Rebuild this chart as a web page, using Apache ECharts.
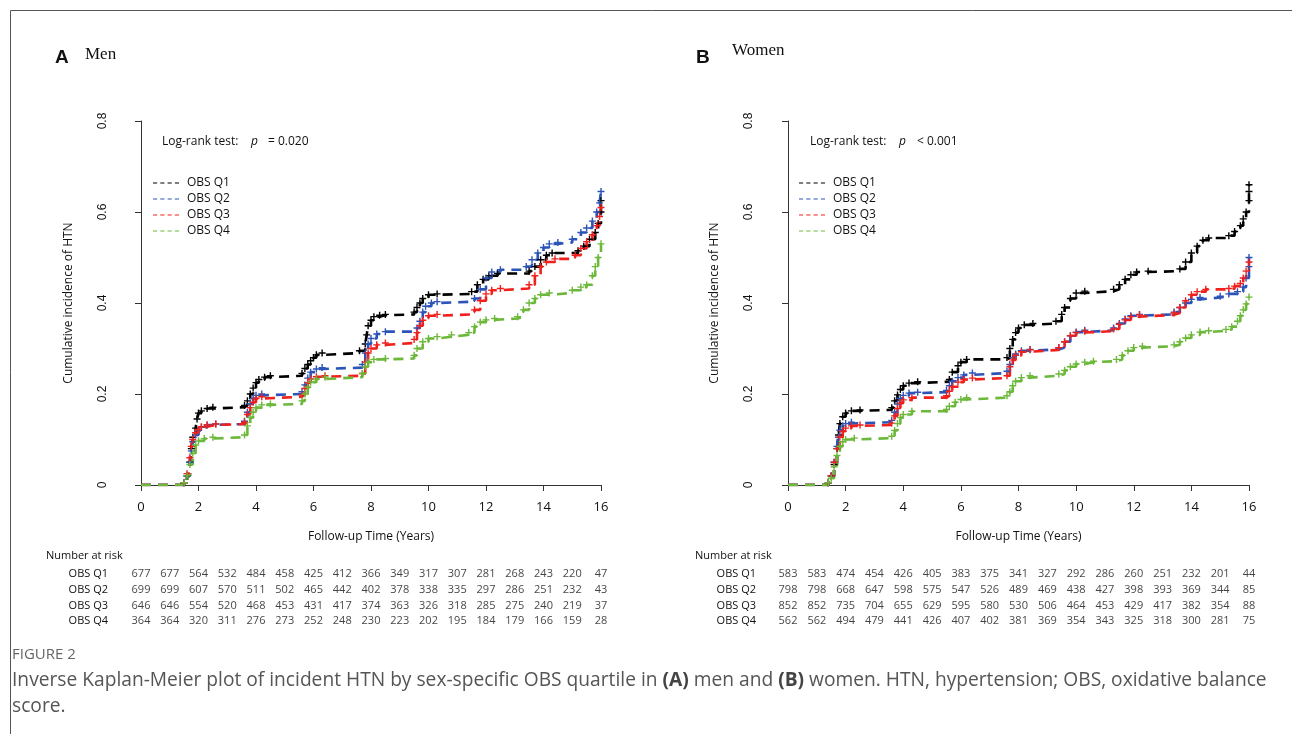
<!DOCTYPE html>
<html>
<head>
<meta charset="utf-8">
<script src="https://cdn.jsdelivr.net/npm/echarts@6.0.0/dist/echarts.min.js"></script>
<style>
  html, body { margin: 0; padding: 0; background: #fff; }
  #main { width: 1292px; height: 734px; }
</style>
</head>
<body>
<div id="main"></div>
<script>
// ---- data ----
const years = [0, 1, 2, 3, 4, 5, 6, 7, 8, 9, 10, 11, 12, 13, 14, 15, 16];
const groups = ['OBS Q1', 'OBS Q2', 'OBS Q3', 'OBS Q4'];
const colors = ['#000000', '#2c54b8', '#f0201c', '#6cb83a'];

// [time (years), cumulative incidence] at each step of the curve
const menQ1 = [[0,0],[1.5,0.005],[1.6,0.02],[1.7,0.05],[1.75,0.08],[1.8,0.105],[1.9,0.125],[1.95,0.145],[2.0,0.158],[2.1,0.163],[2.3,0.168],[2.5,0.171],
  [3.6,0.175],[3.7,0.185],[3.8,0.2],[3.9,0.213],[4.0,0.225],[4.1,0.232],[4.3,0.237],[4.5,0.24],
  [5.6,0.245],[5.7,0.256],[5.8,0.265],[5.9,0.273],[6.0,0.28],[6.1,0.286],[6.3,0.29],
  [7.6,0.295],[7.8,0.31],[7.85,0.33],[7.9,0.35],[8.0,0.362],[8.1,0.37],[8.3,0.373],[8.5,0.375],
  [9.5,0.38],[9.6,0.39],[9.7,0.4],[9.8,0.41],[10.0,0.418],[10.3,0.42],
  [11.5,0.425],[11.7,0.44],[11.9,0.452],[12.1,0.46],[12.4,0.465],
  [13.5,0.47],[13.7,0.48],[13.9,0.495],[14.1,0.505],[14.3,0.51],
  [15.2,0.515],[15.4,0.525],[15.6,0.54],[15.8,0.555],[15.9,0.575],[16.0,0.6],[16.0,0.625]];
const menQ2 = [[0,0],[1.5,0.005],[1.6,0.02],[1.7,0.05],[1.75,0.075],[1.8,0.095],[1.9,0.11],[2.0,0.12],[2.1,0.127],[2.3,0.132],[2.6,0.134],
  [3.6,0.14],[3.7,0.16],[3.8,0.178],[3.9,0.19],[4.0,0.197],[4.2,0.2],
  [5.6,0.205],[5.7,0.22],[5.8,0.235],[5.9,0.248],[6.1,0.255],[6.3,0.258],
  [7.7,0.265],[7.8,0.29],[7.9,0.31],[8.0,0.322],[8.2,0.332],[8.5,0.337],
  [9.6,0.345],[9.7,0.36],[9.8,0.38],[9.9,0.393],[10.1,0.4],[10.3,0.403],
  [11.6,0.41],[11.8,0.43],[12.0,0.455],[12.2,0.468],[12.5,0.473],
  [13.4,0.48],[13.6,0.495],[13.8,0.51],[14.0,0.522],[14.2,0.53],[14.5,0.533],
  [15.0,0.54],[15.3,0.555],[15.5,0.565],[15.7,0.58],[15.85,0.6],[15.95,0.62],[16.0,0.645]];
const menQ3 = [[0,0],[1.5,0.005],[1.6,0.025],[1.7,0.06],[1.75,0.085],[1.8,0.1],[1.9,0.115],[2.0,0.122],[2.1,0.128],[2.3,0.132],[2.6,0.134],
  [3.6,0.138],[3.7,0.155],[3.8,0.17],[3.9,0.182],[4.0,0.19],[4.2,0.194],
  [5.6,0.198],[5.7,0.212],[5.8,0.225],[5.9,0.233],[6.1,0.238],[6.4,0.24],
  [7.7,0.245],[7.8,0.27],[7.9,0.29],[8.0,0.3],[8.2,0.308],[8.5,0.312],
  [9.5,0.32],[9.6,0.335],[9.7,0.35],[9.8,0.362],[10.0,0.372],[10.3,0.375],
  [11.6,0.385],[11.8,0.405],[12.0,0.42],[12.2,0.428],[12.5,0.432],
  [13.5,0.44],[13.7,0.46],[13.9,0.48],[14.1,0.49],[14.4,0.497],
  [15.1,0.505],[15.3,0.52],[15.5,0.535],[15.7,0.55],[15.85,0.57],[15.95,0.59],[16.0,0.61]];
const menQ4 = [[0,0],[1.5,0.005],[1.6,0.02],[1.7,0.045],[1.8,0.07],[1.9,0.088],[2.0,0.097],[2.2,0.102],[2.5,0.105],
  [3.6,0.11],[3.7,0.13],[3.8,0.148],[3.9,0.16],[4.0,0.17],[4.2,0.176],[4.5,0.178],
  [5.6,0.185],[5.7,0.2],[5.8,0.215],[5.9,0.226],[6.1,0.233],[6.4,0.237],
  [7.7,0.245],[7.8,0.26],[7.9,0.27],[8.1,0.276],[8.5,0.278],
  [9.5,0.285],[9.6,0.3],[9.8,0.315],[10.0,0.322],[10.3,0.326],[10.8,0.33],
  [11.4,0.335],[11.6,0.348],[11.8,0.358],[12.0,0.363],[12.3,0.366],
  [13.1,0.37],[13.3,0.385],[13.5,0.4],[13.7,0.41],[13.9,0.418],[14.2,0.422],
  [15.0,0.428],[15.3,0.435],[15.5,0.44],[15.7,0.46],[15.8,0.48],[15.9,0.5],[16.0,0.53]];

const womenQ1 = [[0,0],[1.4,0.005],[1.5,0.02],[1.6,0.045],[1.7,0.08],[1.75,0.11],[1.8,0.135],[1.9,0.15],[2.0,0.158],[2.2,0.163],[2.5,0.165],
  [3.6,0.17],[3.7,0.185],[3.8,0.198],[3.9,0.21],[4.0,0.218],[4.2,0.224],[4.5,0.227],
  [5.6,0.232],[5.7,0.248],[5.9,0.262],[6.0,0.27],[6.2,0.276],
  [7.6,0.28],[7.7,0.3],[7.8,0.32],[7.9,0.335],[8.0,0.345],[8.2,0.352],[8.5,0.355],
  [9.3,0.36],[9.5,0.375],[9.6,0.39],[9.8,0.41],[10.0,0.422],[10.3,0.426],
  [11.3,0.43],[11.5,0.44],[11.7,0.452],[11.9,0.462],[12.1,0.468],[12.5,0.47],
  [13.6,0.475],[13.8,0.49],[14.0,0.51],[14.2,0.525],[14.4,0.538],[14.6,0.543],
  [15.3,0.548],[15.5,0.557],[15.7,0.57],[15.8,0.585],[15.9,0.6],[16.0,0.625],[16.0,0.645],[16.0,0.66]];
const womenQ2 = [[0,0],[1.4,0.005],[1.5,0.02],[1.6,0.05],[1.7,0.085],[1.75,0.105],[1.8,0.12],[1.9,0.13],[2.0,0.135],[2.2,0.138],
  [3.6,0.142],[3.7,0.16],[3.8,0.178],[3.9,0.19],[4.0,0.197],[4.2,0.202],[4.5,0.204],
  [5.5,0.208],[5.6,0.218],[5.7,0.228],[5.9,0.236],[6.1,0.242],[6.4,0.246],
  [7.6,0.25],[7.7,0.265],[7.8,0.28],[7.9,0.288],[8.1,0.295],[8.4,0.298],
  [9.4,0.302],[9.6,0.315],[9.8,0.328],[10.0,0.336],[10.3,0.34],
  [11.3,0.345],[11.5,0.355],[11.7,0.365],[11.9,0.372],[12.2,0.375],
  [13.4,0.38],[13.6,0.39],[13.8,0.4],[14.0,0.408],[14.3,0.412],
  [15.0,0.415],[15.3,0.42],[15.6,0.425],[15.8,0.435],[15.9,0.455],[16.0,0.48],[16.0,0.5]];
const womenQ3 = [[0,0],[1.4,0.005],[1.5,0.02],[1.6,0.05],[1.7,0.08],[1.8,0.105],[1.9,0.118],[2.0,0.125],[2.2,0.13],[2.5,0.132],
  [3.6,0.136],[3.7,0.152],[3.8,0.168],[3.9,0.18],[4.0,0.187],[4.3,0.192],
  [5.5,0.196],[5.6,0.206],[5.7,0.216],[5.9,0.226],[6.1,0.232],[6.4,0.235],
  [7.6,0.24],[7.7,0.26],[7.8,0.275],[7.9,0.285],[8.1,0.293],[8.4,0.297],
  [9.4,0.302],[9.6,0.315],[9.8,0.328],[10.0,0.335],[10.3,0.338],
  [11.3,0.343],[11.5,0.353],[11.7,0.363],[11.9,0.37],[12.2,0.374],
  [13.4,0.378],[13.6,0.39],[13.8,0.405],[14.0,0.418],[14.2,0.425],[14.5,0.43],
  [15.3,0.432],[15.5,0.437],[15.7,0.443],[15.8,0.455],[15.9,0.47],[16.0,0.49]];
const womenQ4 = [[0,0],[1.4,0.005],[1.5,0.015],[1.6,0.04],[1.7,0.065],[1.8,0.085],[1.9,0.095],[2.0,0.1],[2.3,0.103],
  [3.6,0.107],[3.7,0.12],[3.8,0.135],[3.9,0.148],[4.0,0.155],[4.3,0.162],
  [5.5,0.166],[5.6,0.173],[5.8,0.182],[6.0,0.188],[6.2,0.192],
  [7.6,0.196],[7.7,0.205],[7.8,0.218],[7.9,0.228],[8.1,0.236],[8.4,0.24],
  [9.4,0.244],[9.6,0.252],[9.8,0.26],[10.0,0.266],[10.3,0.27],[10.6,0.272],
  [11.4,0.276],[11.6,0.285],[11.8,0.295],[12.0,0.302],[12.3,0.305],
  [13.4,0.308],[13.6,0.315],[13.8,0.323],[14.0,0.33],[14.3,0.336],[14.6,0.339],
  [15.2,0.342],[15.4,0.348],[15.6,0.36],[15.7,0.372],[15.8,0.385],[15.9,0.398],[16.0,0.413]];

// number at risk, one row per quartile, one column per year 0..16
const menRisk = [
  [677, 677, 564, 532, 484, 458, 425, 412, 366, 349, 317, 307, 281, 268, 243, 220, 47],
  [699, 699, 607, 570, 511, 502, 465, 442, 402, 378, 338, 335, 297, 286, 251, 232, 43],
  [646, 646, 554, 520, 468, 453, 431, 417, 374, 363, 326, 318, 285, 275, 240, 219, 37],
  [364, 364, 320, 311, 276, 273, 252, 248, 230, 223, 202, 195, 184, 179, 166, 159, 28]
];
const womenRisk = [
  [583, 583, 474, 454, 426, 405, 383, 375, 341, 327, 292, 286, 260, 251, 232, 201, 44],
  [798, 798, 668, 647, 598, 575, 547, 526, 489, 469, 438, 427, 398, 393, 369, 344, 85],
  [852, 852, 735, 704, 655, 629, 595, 580, 530, 506, 464, 453, 429, 417, 382, 354, 88],
  [562, 562, 494, 479, 441, 426, 407, 402, 381, 369, 354, 343, 325, 318, 300, 281, 75]
];

const SANS = '"Open Sans", "Noto Sans", sans-serif';
const ARIAL = '"Liberation Sans", Arial, sans-serif';
const plus = 'path://M4,0H6V4H10V6H6V10H4V6H0V4H4Z';
const dashIcon = 'path://M0,0H4V1H0Z M7,0H11V1H7Z M14,0H18V1H14Z M21,0H25V1H21Z';

const chart = echarts.init(document.getElementById('main'));

function kmSeries(name, data, color, gi) {
  return {
    name: name,
    type: 'line',
    step: 'end',
    xAxisIndex: gi,
    yAxisIndex: gi,
    data: data.map((p, i) => i === 0 ? { value: p, symbol: 'none' } : p),
    symbol: plus,
    symbolSize: 7,
    showSymbol: true,
    lineStyle: { color: color, width: 2.6, type: [10, 7] },
    itemStyle: { color: color },
    silent: true
  };
}

function riskSeries(rows, gi) {
  const pts = [];
  rows.forEach((row, r) => row.forEach((v, i) => pts.push([years[i], groups[r], v])));
  return {
    type: 'scatter',
    xAxisIndex: gi,
    yAxisIndex: gi,
    data: pts,
    symbolSize: 1,
    itemStyle: { color: 'rgba(0,0,0,0)' },
    label: {
      show: true,
      position: 'inside',
      formatter: p => p.value[2],
      fontSize: 11,
      fontFamily: SANS,
      color: '#111'
    },
    silent: true
  };
}

function plotAxes(gi) {
  const x = {
    gridIndex: gi, type: 'value', min: 0, max: 16, interval: 2,
    name: 'Follow-up Time (Years)', nameLocation: 'middle', nameGap: 46,
    nameTextStyle: { fontSize: 12, fontFamily: SANS, color: '#111' },
    axisLine: { onZero: false, lineStyle: { color: '#333' } },
    axisTick: { length: 6, lineStyle: { color: '#333' } },
    axisLabel: { margin: 16, fontSize: 13, fontFamily: SANS, color: '#111' },
    splitLine: { show: false }
  };
  const y = {
    gridIndex: gi, type: 'value', min: 0, max: 0.8, interval: 0.2, offset: 20,
    name: 'Cumulative incidence of HTN', nameLocation: 'middle', nameGap: 46, nameRotate: 90,
    nameTextStyle: { fontSize: 12, fontFamily: SANS, color: '#111' },
    axisLine: { show: true, lineStyle: { color: '#333' } },
    axisTick: { show: true, length: 6, lineStyle: { color: '#333' } },
    axisLabel: { rotate: 90, margin: 12, fontSize: 12, fontFamily: ARIAL, color: '#111',
      formatter: v => v === 0 ? '0' : v.toFixed(1) },
    splitLine: { show: false }
  };
  return [x, y];
}

const [xA, yA] = plotAxes(0);
const [xB, yB] = plotAxes(1);
yB.offset = 21;

function tableAxes(gi, margin) {
  return [
    { gridIndex: gi, type: 'value', min: 0, max: 16, show: false },
    {
      gridIndex: gi, type: 'category', data: groups, inverse: true,
      axisLine: { show: false }, axisTick: { show: false },
      axisLabel: { margin: margin, fontSize: 11, fontFamily: SANS, color: '#111' }
    }
  ];
}
const [xTA, yTA] = tableAxes(2, 33);
const [xTB, yTB] = tableAxes(3, 32);

function txt(x, y, text, font, extra) {
  return { type: 'text', x: x, y: y, silent: true,
    style: Object.assign({ text: text, font: font, fill: '#111', verticalAlign: 'middle' }, extra || {}) };
}

const legendBase = {
  orient: 'vertical', itemGap: 4, itemWidth: 26, itemHeight: 2, icon: dashIcon,
  data: groups, selectedMode: false,
  textStyle: { fontSize: 12, fontFamily: SANS, color: '#111', padding: [0, 0, 0, 3] }
};

const option = {
  animation: false,
  backgroundColor: '#fff',
  grid: [
    { left: 141, right: 691, top: 121, bottom: 249 },
    { left: 788, right: 43, top: 121, bottom: 249 },
    { left: 141, right: 691, top: 566, height: 63 },
    { left: 788, right: 43, top: 566, height: 63 }
  ],
  xAxis: [xA, xB, xTA, xTB],
  yAxis: [yA, yB, yTA, yTB],
  legend: [
    Object.assign({ left: 148, top: 172 }, legendBase),
    Object.assign({ left: 794, top: 172 }, legendBase)
  ],
  series: [
    kmSeries('OBS Q1', menQ1, colors[0], 0),
    kmSeries('OBS Q2', menQ2, colors[1], 0),
    kmSeries('OBS Q3', menQ3, colors[2], 0),
    kmSeries('OBS Q4', menQ4, colors[3], 0),
    kmSeries('OBS Q1', womenQ1, colors[0], 1),
    kmSeries('OBS Q2', womenQ2, colors[1], 1),
    kmSeries('OBS Q3', womenQ3, colors[2], 1),
    kmSeries('OBS Q4', womenQ4, colors[3], 1),
    riskSeries(menRisk, 2),
    riskSeries(womenRisk, 3)
  ],
  graphic: [
    { type: 'rect', silent: true, shape: { x: 10.5, y: 10.5, width: 1400, height: 1000 },
      style: { fill: 'none', stroke: '#555', lineWidth: 1 } },
    txt(55, 58, 'A', 'bold 19px ' + ARIAL),
    txt(85, 55, 'Men', '17px "Liberation Serif", "Times New Roman", serif'),
    txt(696, 58, 'B', 'bold 19px ' + ARIAL),
    txt(732, 51, 'Women', '17px "Liberation Serif", "Times New Roman", serif'),
    txt(162, 142, 'Log-rank test:', '12px ' + SANS),
    txt(251, 142, 'p', 'italic 12px ' + SANS),
    txt(268, 142, '= 0.020', '12px ' + SANS),
    txt(810, 142, 'Log-rank test:', '12px ' + SANS),
    txt(899, 142, 'p', 'italic 12px ' + SANS),
    txt(917, 142, '< 0.001', '12px ' + SANS),
    txt(46, 556, 'Number at risk', '11px ' + SANS),
    txt(695, 556, 'Number at risk', '11px ' + SANS),
    txt(12, 655, 'FIGURE 2', '15px ' + SANS, { fill: '#666' }),
    { type: 'text', x: 12, y: 668, silent: true,
      style: {
        text: 'Inverse Kaplan-Meier plot of incident HTN by sex-specific OBS quartile in {b|(A)} men and {b|(B)} women. HTN, hypertension; OBS, oxidative balance\nscore.',
        font: '19.2px ' + SANS, fill: '#555', lineHeight: 26,
        rich: { b: { fontWeight: 'bold', fontSize: 19.2, fontFamily: SANS, fill: '#444', lineHeight: 26 } }
      } }
  ]
};

chart.setOption(option);
</script>
</body>
</html>
